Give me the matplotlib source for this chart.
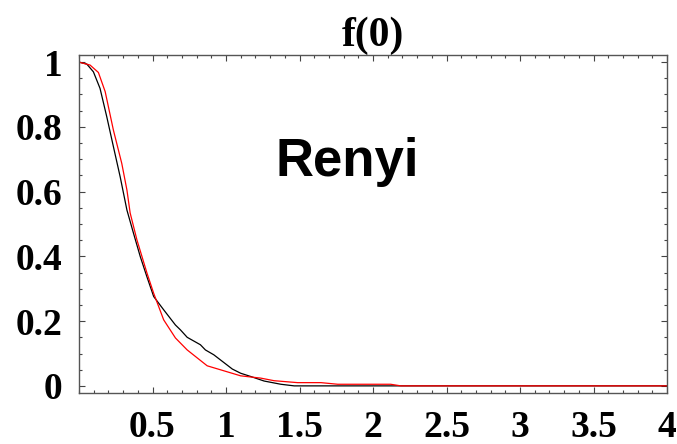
import matplotlib
matplotlib.use("Agg")
import matplotlib.pyplot as plt
from matplotlib.ticker import MultipleLocator, FixedLocator

# simulated curve (black)
sim_x = [0.0, 0.053, 0.098, 0.143, 0.189, 0.234, 0.280, 0.326, 0.371, 0.417,
         0.462, 0.508, 0.576, 0.656, 0.690, 0.736, 0.826, 0.860, 0.917, 1.043,
         1.100, 1.168, 1.259, 1.373, 1.464, 4.0]
sim_y = [1.000, 0.994, 0.970, 0.919, 0.831, 0.739, 0.646, 0.543, 0.471, 0.399,
         0.337, 0.276, 0.235, 0.188, 0.173, 0.150, 0.127, 0.111, 0.096, 0.052,
         0.039, 0.029, 0.015, 0.005, 0.0, 0.0]

# theory curve (red)
th_x = [0.0, 0.075, 0.132, 0.178, 0.234, 0.291, 0.326, 0.348, 0.394, 0.462,
        0.508, 0.576, 0.656, 0.736, 0.872, 1.100, 1.236, 1.327, 1.487, 1.646,
        1.760, 2.120, 2.190, 4.0]
th_y = [1.000, 0.991, 0.968, 0.909, 0.790, 0.687, 0.605, 0.534, 0.451, 0.349,
        0.286, 0.204, 0.148, 0.111, 0.062, 0.031, 0.024, 0.016, 0.010, 0.010,
        0.005, 0.005, 0.0, 0.0]

xticks = [0.5, 1, 1.5, 2, 2.5, 3, 3.5, 4]
xticklabels = ["0.5", "1", "1.5", "2", "2.5", "3", "3.5", "4"]
yticks = [0, 0.2, 0.4, 0.6, 0.8, 1]
yticklabels = ["0", "0.2", "0.4", "0.6", "0.8", "1"]

fig = plt.figure(figsize=(6.77, 4.44), dpi=100)
ax = fig.add_axes([79 / 677, 1 - 393 / 444, 588 / 677, 338 / 444])

ax.plot(sim_x, sim_y, color="black", lw=0.9)
ax.plot(th_x, th_y, color="red", lw=0.9)

ax.set_xlim(0, 4)
ax.set_ylim(-0.022, 1.022)

lab_font = dict(family="Liberation Serif", weight="bold", size=27)
ax.xaxis.set_major_locator(FixedLocator(xticks))
ax.xaxis.set_minor_locator(MultipleLocator(0.1))
ax.yaxis.set_major_locator(FixedLocator(yticks))
ax.yaxis.set_minor_locator(MultipleLocator(0.05))
ax.set_xticklabels(xticklabels, fontdict=lab_font)
ax.set_yticklabels(yticklabels, fontdict=lab_font)

ax.tick_params(which="both", direction="in", top=True, right=True,
               color="#444444", width=0.8)
ax.tick_params(which="major", length=4)
ax.tick_params(which="minor", length=2.2)
ax.tick_params(axis="x", which="major", pad=12)
ax.tick_params(axis="y", which="major", pad=12)

for s in ax.spines.values():
    s.set_color("#555555")
    s.set_linewidth(1.0)

ax.set_title("f(0)", fontfamily="Liberation Serif", fontweight="bold",
             fontsize=30, pad=6)
ax.text(0.456, 0.683, "Renyi", transform=ax.transAxes,
        family="Liberation Sans", weight="bold", fontsize=38,
        ha="center", va="center")

fig.savefig("out.png", dpi=100)
